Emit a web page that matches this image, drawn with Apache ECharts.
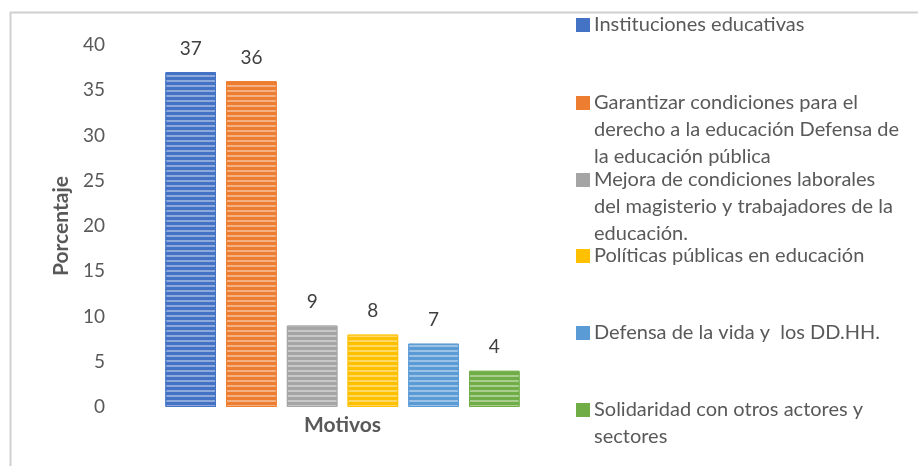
<!DOCTYPE html>
<html>
<head>
<meta charset="utf-8">
<script src="https://cdn.jsdelivr.net/npm/echarts@6/dist/echarts.min.js"></script>
<style>
  html, body { margin: 0; padding: 0; background: #fff; }
  #chart { width: 918px; height: 466px; }
</style>
</head>
<body>
<div id="chart"></div>
<script>
// datos
var motivos = [
  'Instituciones educativas',
  'Garantizar condiciones para el derecho a la educación Defensa de la educación pública',
  'Mejora de condiciones laborales del magisterio y trabajadores de la educación.',
  'Políticas públicas en educación',
  'Defensa de la vida y  los DD.HH.',
  'Solidaridad con otros actores y sectores'
];
// como se parte el texto en la leyenda
var lineasLeyenda = [
  ['Instituciones educativas'],
  ['Garantizar condiciones para el', 'derecho a la educación Defensa de', 'la educación pública'],
  ['Mejora de condiciones laborales', 'del magisterio y trabajadores de la', 'educación.'],
  ['Políticas públicas en educación'],
  ['Defensa de la vida y  los DD.HH.'],
  ['Solidaridad con otros actores y', 'sectores']
];
var porcentajes = [37, 36, 9, 8, 7, 4];
var colores = ['#4472C4', '#ED7D31', '#A5A5A5', '#FFC000', '#5B9BD5', '#70AD47'];
var yTicks = [0, 40, 5]; // min, max, intervalo

let chart = echarts.init(document.getElementById('chart'));

var font = 'Lato, "Open Sans", sans-serif';
var lh = 27;
var centrosIcono = [25, 103, 180, 256, 333, 410];

var series = [];
var legends = [];
for (var i = 0; i < motivos.length; i++) {
  series.push({
    name: motivos[i],
    type: 'bar',
    data: [porcentajes[i]],
    itemStyle: {
      color: colores[i],
      borderColor: colores[i],
      borderWidth: 1,
      decal: {
        symbol: 'rect',
        symbolSize: 1,
        color: 'rgba(255,255,255,0.4)',
        dashArrayX: [10, 0],
        dashArrayY: [2, 3],
        rotation: 0
      }
    },
    label: {
      show: true,
      position: 'top',
      distance: 14,
      fontFamily: font,
      fontSize: 19,
      color: '#404040'
    }
  });
  var n = lineasLeyenda[i].length;
  // lineas vacias arriba para que la primera linea quede al lado del icono
  var pre = '';
  for (var k = 1; k < n; k++) pre += ' \n';
  legends.push({
    data: [motivos[i]],
    orient: 'vertical',
    left: 576,
    top: centrosIcono[i] - (2 * n - 1) * lh / 2,
    padding: 0,
    icon: 'rect',
    itemWidth: 12,
    itemHeight: 12,
    selectedMode: false,
    itemStyle: { decal: 'none' },
    formatter: (function (txt) {
      return function () { return txt; };
    })(pre + lineasLeyenda[i].join('\n')),
    textStyle: {
      fontFamily: font,
      fontSize: 20,
      color: '#595959',
      lineHeight: lh
    }
  });
}

let option = {
  animation: false,
  backgroundColor: '#fff',
  grid: { left: 150, right: 383, top: 45, bottom: 59 },
  legend: legends,
  xAxis: {
    type: 'category',
    data: [''],
    name: 'Motivos',
    nameLocation: 'middle',
    nameGap: 8,
    nameTextStyle: { fontFamily: font, fontSize: 21, fontWeight: 'bold', color: '#595959' },
    axisLine: { show: false },
    axisTick: { show: false },
    axisLabel: { show: false }
  },
  yAxis: {
    type: 'value',
    min: yTicks[0],
    max: yTicks[1],
    interval: yTicks[2],
    name: 'Porcentaje',
    nameLocation: 'middle',
    nameGap: 78,
    nameTextStyle: { fontFamily: font, fontSize: 21, fontWeight: 'bold', color: '#595959' },
    axisLine: { show: false },
    axisTick: { show: false },
    splitLine: { show: false },
    axisLabel: { margin: 45, fontFamily: font, fontSize: 19, color: '#595959' }
  },
  series: series,
  graphic: [
    { type: 'line', shape: { x1: 10.5, y1: 12, x2: 10.5, y2: 466 }, style: { stroke: '#d0d0d0', lineWidth: 2 } },
    { type: 'line', shape: { x1: 10, y1: 12.5, x2: 918, y2: 12.5 }, style: { stroke: '#d0d0d0', lineWidth: 2 } }
  ]
};
// barGap / barCategoryGap van en la ultima serie
series[series.length - 1].barGap = '20%';
series[series.length - 1].barCategoryGap = '8%';

chart.setOption(option);
</script>
</body>
</html>
